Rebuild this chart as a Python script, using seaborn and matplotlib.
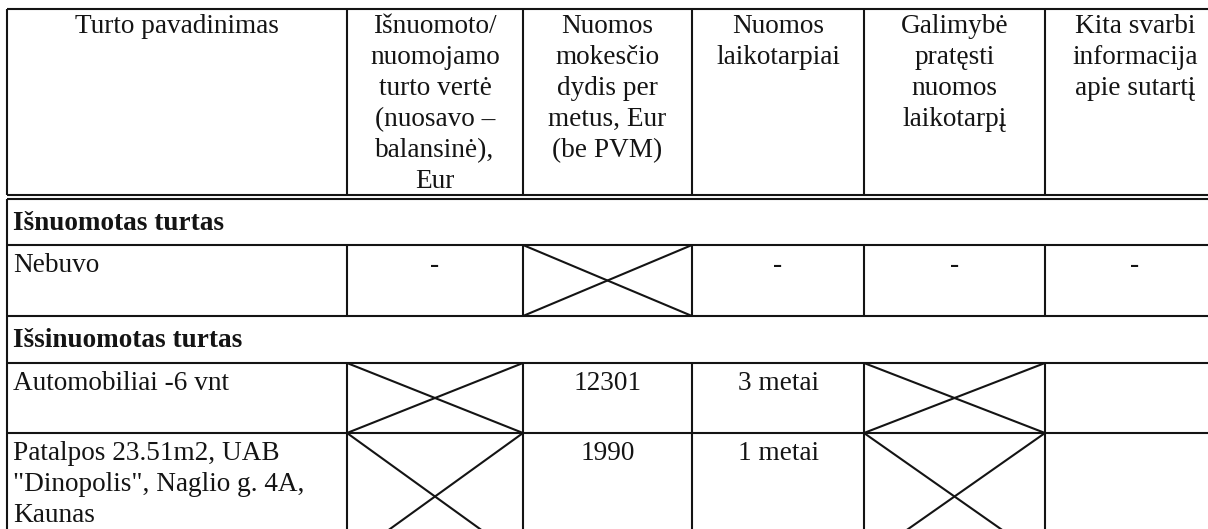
import matplotlib
matplotlib.use("Agg")
import matplotlib.pyplot as plt
import seaborn as sns

# ---- table content ----
header_labels = [
    "Turto pavadinimas",
    "Išnuomoto/\nnuomojamo\nturto vertė\n(nuosavo –\nbalansinė),\nEur",
    "Nuomos\nmokesčio\ndydis per\nmetus, Eur\n(be PVM)",
    "Nuomos\nlaikotarpiai",
    "Galimybė\npratęsti\nnuomos\nlaikotarpį",
    "Kita svarbi\ninformacija\napie sutartį",
]
section_titles = ["Išnuomotas turtas", "Išsinuomotas turtas"]
asset_names = ["Nebuvo", "Automobiliai -6 vnt",
               "Patalpos 23.51m2, UAB\n\"Dinopolis\", Naglio g. 4A,\nKaunas"]
# None marks a crossed-out cell
asset_value = ["-", None, None]
rent_fee = [None, "12301", "1990"]
rent_period = ["-", "3 metai", "1 metai"]
extension = ["-", None, None]
other_info = ["-", "", ""]

# ---- layout (pixel grid of the scanned page) ----
W, H = 1208, 529
col_edges = [7, 347, 523, 692, 864, 1045, 1225]
top_y = 9
header_bottom = 195
section_rows = [(199, 245), (316, 363)]
asset_rows = [(245, 316), (363, 433), (433, 560)]
INK = "#141414"
LW = 1.5
FS = 19.6
LSP = 1.32

sns.set_theme(style="white")
plt.rcParams["font.family"] = ["Liberation Serif", "DejaVu Serif"]

fig = plt.figure(figsize=(W / 100, H / 100), dpi=100)
ax = fig.add_axes([0, 0, 1, 1])
ax.set_xlim(0, W)
ax.set_ylim(H, 0)
ax.axis("off")


def hline(y, x0=col_edges[0], x1=col_edges[-1]):
    ax.plot([x0, x1], [y, y], color=INK, lw=LW, solid_capstyle="butt")


def vline(x, y0, y1):
    ax.plot([x, x], [y0, y1], color=INK, lw=LW, solid_capstyle="butt")


def cross(c, y0, y1):
    x0, x1 = col_edges[c], col_edges[c + 1]
    ax.plot([x0, x1], [y0, y1], color=INK, lw=LW)
    ax.plot([x0, x1], [y1, y0], color=INK, lw=LW)


# header
hline(top_y)
hline(header_bottom)
hline(header_bottom + 3.5)
for x in col_edges[:-1]:
    vline(x, top_y, header_bottom)
for c, lab in enumerate(header_labels):
    cx = (col_edges[c] + col_edges[c + 1]) / 2
    ax.text(cx, top_y + 5, lab, ha="center", va="top", fontsize=FS,
            color=INK, linespacing=LSP, multialignment="center")

# section rows (span whole width)
for (y0, y1), title in zip(section_rows, section_titles):
    vline(col_edges[0], y0, y1)
    hline(y1)
    ax.text(col_edges[0] + 6, (y0 + y1) / 2 + 1, title, ha="left", va="center",
            fontsize=FS, fontweight="bold", color=INK)

# asset rows
columns = [asset_value, rent_fee, rent_period, extension, other_info]
for i, name in enumerate(asset_names):
    y0, y1 = asset_rows[i]
    for x in col_edges[:-1]:
        vline(x, y0, y1)
    hline(y1)
    ax.text(col_edges[0] + 6, y0 + 8, name, ha="left", va="top",
            fontsize=FS, color=INK, linespacing=LSP)
    for c, values in enumerate(columns, start=1):
        val = values[i]
        if val is None:
            cross(c, y0, y1)
        elif val:
            cx = (col_edges[c] + col_edges[c + 1]) / 2
            ax.text(cx, y0 + 8, val, ha="center", va="top",
                    fontsize=FS, color=INK)

fig.savefig("out.png", dpi=100, facecolor="white")
